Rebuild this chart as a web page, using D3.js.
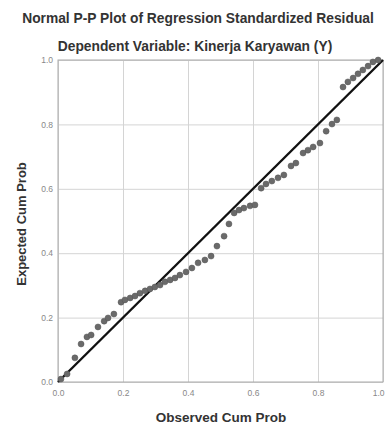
<!DOCTYPE html>
<html>
<head>
<meta charset="utf-8">
<title>Normal P-P Plot</title>
<script src="https://d3js.org/d3.v7.min.js"></script>
<style>
  body { margin: 0; background: #fff; }
  text { font-family: "Liberation Sans", Arial, sans-serif; }
</style>
</head>
<body>
<div id="chart"></div>
<script>
// observed vs expected cumulative probabilities
var observed = [0.009, 0.028, 0.052, 0.071, 0.089, 0.102, 0.123, 0.142, 0.154, 0.172,
  0.194, 0.206, 0.222, 0.237, 0.252, 0.268, 0.283, 0.298, 0.314, 0.329,
  0.345, 0.360, 0.375, 0.394, 0.412, 0.431, 0.452, 0.471, 0.489, 0.511,
  0.526, 0.542, 0.557, 0.572, 0.591, 0.606, 0.625, 0.640, 0.658, 0.677,
  0.695, 0.717, 0.732, 0.754, 0.769, 0.785, 0.806, 0.825, 0.843, 0.858,
  0.877, 0.892, 0.908, 0.923, 0.938, 0.954, 0.969, 0.985];
var expected = [0.009, 0.025, 0.075, 0.118, 0.140, 0.146, 0.171, 0.189, 0.199, 0.211,
  0.248, 0.255, 0.261, 0.267, 0.276, 0.283, 0.289, 0.295, 0.301, 0.311,
  0.317, 0.323, 0.332, 0.342, 0.354, 0.370, 0.379, 0.391, 0.422, 0.453,
  0.491, 0.525, 0.534, 0.540, 0.547, 0.550, 0.602, 0.615, 0.624, 0.634,
  0.643, 0.671, 0.680, 0.711, 0.720, 0.730, 0.742, 0.779, 0.801, 0.814,
  0.916, 0.932, 0.944, 0.957, 0.969, 0.981, 0.994, 1.000];
var ticks = [0, 0.2, 0.4, 0.6, 0.8, 1.0];
var xTickLabels = ["0.0", "0.2", "0.4", "0.6", "0.8", "1.0"];
var yTickLabels = ["0.0", "0.2", "0.4", "0.6", "0.8", "1.0"];

var W = 385, H = 425;
var margin = { top: 60, right: 2, bottom: 43, left: 58 };
var width = W - margin.left - margin.right,
    height = H - margin.top - margin.bottom;

var svg = d3.select("#chart").append("svg")
    .attr("width", W)
    .attr("height", H);

svg.append("text")
    .attr("x", 198).attr("y", 23)
    .attr("text-anchor", "middle")
    .style("font-size", "13.8px").style("font-weight", "bold").style("fill", "#333")
    .text("Normal P-P Plot of Regression Standardized Residual");

svg.append("text")
    .attr("x", 195).attr("y", 51)
    .attr("text-anchor", "middle")
    .style("font-size", "13.8px").style("font-weight", "bold").style("fill", "#333")
    .text("Dependent Variable: Kinerja Karyawan (Y)");

var g = svg.append("g")
    .attr("transform", "translate(" + margin.left + "," + margin.top + ")");

var x = d3.scaleLinear().domain([0, 1]).range([0, width]);
var y = d3.scaleLinear().domain([0, 1]).range([height, 0]);

// grid lines
g.append("g")
    .call(d3.axisBottom(x).tickValues(ticks).tickSize(height).tickFormat(""))
    .call(function (a) { a.select(".domain").remove(); })
    .selectAll("line").attr("stroke", "#d4d4d4").attr("stroke-width", 1);
g.append("g")
    .call(d3.axisLeft(y).tickValues(ticks).tickSize(-width).tickFormat(""))
    .call(function (a) { a.select(".domain").remove(); })
    .selectAll("line").attr("stroke", "#d4d4d4").attr("stroke-width", 1);

// frame
g.append("rect")
    .attr("width", width).attr("height", height)
    .attr("fill", "none").attr("stroke", "#aaa");

// axis labels
var xAxis = g.append("g")
    .attr("transform", "translate(0," + height + ")")
    .call(d3.axisBottom(x).tickValues(ticks).tickSize(0).tickPadding(8)
        .tickFormat(function (d, i) { return xTickLabels[i]; }));
xAxis.select(".domain").remove();
xAxis.selectAll("text").style("font-size", "8.5px").style("fill", "#888");
// keep the last label inside the window
xAxis.selectAll("text").filter(function (d) { return d === 1; })
    .attr("text-anchor", "end").attr("dx", "1px");

var yAxis = g.append("g")
    .call(d3.axisLeft(y).tickValues(ticks).tickSize(0).tickPadding(5)
        .tickFormat(function (d, i) { return yTickLabels[i]; }));
yAxis.select(".domain").remove();
yAxis.selectAll("text").style("font-size", "8.5px").style("fill", "#888");

// reference line
g.append("line")
    .attr("x1", x(0)).attr("y1", y(0))
    .attr("x2", x(1)).attr("y2", y(1))
    .attr("stroke", "#111").attr("stroke-width", 2.4);

// points
var pts = observed.map(function (d, i) { return { o: d, e: expected[i] }; });
g.selectAll("circle")
    .data(pts)
    .enter().append("circle")
    .attr("cx", function (d) { return x(d.o); })
    .attr("cy", function (d) { return y(d.e); })
    .attr("r", 3)
    .attr("fill", "#6a6a6a")
    .attr("stroke", "#555").attr("stroke-width", 0.5);

svg.append("text")
    .attr("x", 221).attr("y", 422)
    .attr("text-anchor", "middle")
    .style("font-size", "13.5px").style("font-weight", "bold").style("fill", "#333")
    .text("Observed Cum Prob");

svg.append("text")
    .attr("transform", "translate(26,224) rotate(-90)")
    .attr("text-anchor", "middle")
    .style("font-size", "13px").style("font-weight", "bold").style("fill", "#333")
    .text("Expected Cum Prob");
</script>
</body>
</html>
